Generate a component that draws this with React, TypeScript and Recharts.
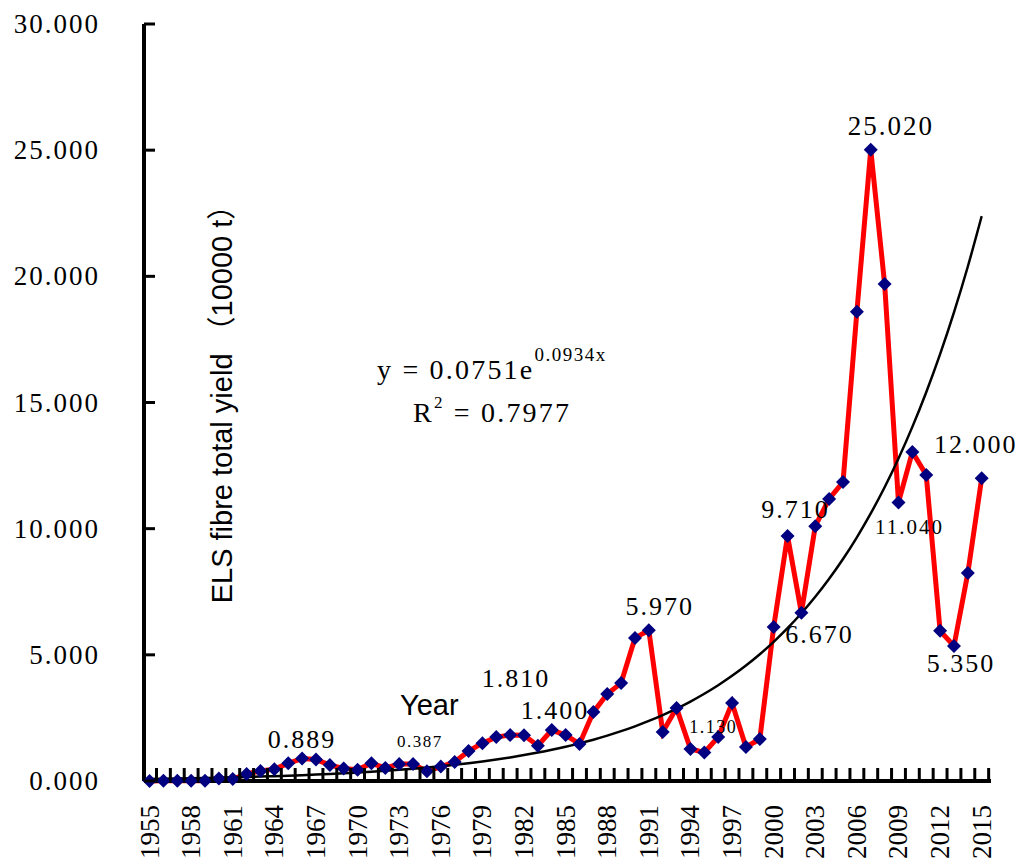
import React from "react";
import { LineChart, Line, XAxis, YAxis, LabelList, Customized } from "recharts";

// Years on the category axis, one point per year
const years = [
    1955, 1956, 1957, 1958, 1959, 1960, 1961, 1962, 1963, 1964,
    1965, 1966, 1967, 1968, 1969, 1970, 1971, 1972, 1973, 1974,
    1975, 1976, 1977, 1978, 1979, 1980, 1981, 1982, 1983, 1984,
    1985, 1986, 1987, 1988, 1989, 1990, 1991, 1992, 1993, 1994,
    1995, 1996, 1997, 1998, 1999, 2000, 2001, 2002, 2003, 2004,
    2005, 2006, 2007, 2008, 2009, 2010, 2011, 2012, 2013, 2014,
    2015,
];

// ELS fibre total yield (10000 t)
const yieldValues = [
    0.0, 0.01, 0.01, 0.01, 0.01, 0.1, 0.08, 0.28, 0.4, 0.47,
    0.7, 0.889, 0.85, 0.63, 0.5, 0.45, 0.7, 0.52, 0.67, 0.67,
    0.387, 0.57, 0.75, 1.19, 1.5, 1.74, 1.82, 1.81, 1.4, 2.02,
    1.82, 1.47, 2.73, 3.45, 3.88, 5.67, 5.97, 1.94, 2.89, 1.27,
    1.13, 1.74, 3.09, 1.35, 1.66, 6.1, 9.71, 6.67, 10.1, 11.18,
    11.85, 18.6, 25.02, 19.7, 11.04, 13.04, 12.13, 5.95, 5.35, 8.24,
    12.0,
];

// exponential fit printed on the chart: y = 0.0751 e^(0.0934 x), x = 1..61
const fitA = 0.0751;
const fitB = 0.0934;

const xLabelYears = [
    1955, 1958, 1961, 1964, 1967, 1970, 1973, 1976, 1979, 1982,
    1985, 1988, 1991, 1994, 1997, 2000, 2003, 2006, 2009, 2012, 2015,
];
const yTicks = [0, 5, 10, 15, 20, 25, 30];

// years that carry a value label
const labelledYears = [1966, 1975, 1982, 1983, 1991, 1995, 2001, 2002, 2007, 2009, 2013, 2015];

const data = years.map((year, i) => ({
    year,
    value: yieldValues[i],
    trend: fitA * Math.exp(fitB * (i + 1)),
}));

// tick marks sit between the years, labels on the years
const xTicks = [...years, ...years.map((y) => y + 0.5)].sort((a, b) => a - b);

const SERIF = "'Liberation Serif', 'Times New Roman', serif";
const SANS = "'Liberation Sans', Arial, 'Noto Sans CJK SC', sans-serif";

// where each value label sits relative to its point
const labelPlace: Record<number, { dx: number; dy: number; size: number }> = {
    1966: { dx: 0, dy: -11, size: 26 },
    1975: { dx: -7, dy: -24, size: 17 },
    1982: { dx: -8, dy: -48, size: 26 },
    1983: { dx: 17, dy: -27, size: 26 },
    1991: { dx: 11, dy: -15, size: 26 },
    1995: { dx: 9, dy: -19, size: 18 },
    2001: { dx: 8, dy: -18, size: 26 },
    2002: { dx: 18, dy: 30, size: 26 },
    2007: { dx: 20, dy: -15, size: 27 },
    2009: { dx: 11, dy: 32, size: 21 },
    2013: { dx: 7, dy: 26, size: 26 },
    2015: { dx: -6, dy: -25, size: 26 },
};

const XTick = (props: any) => {
    const { x, y, payload } = props;
    const v = payload.value;
    if (!Number.isInteger(v)) {
        return <line x1={x} x2={x} y1={y} y2={y - 13} stroke="#000" strokeWidth={3} />;
    }
    if (!xLabelYears.includes(v)) return <g />;
    const ty = y + 24;
    return (
        <text
            x={x}
            y={ty}
            transform={`rotate(-90 ${x} ${ty})`}
            textAnchor="end"
            dominantBaseline="central"
            fontFamily={SERIF}
            fontSize={27}
            fill="#000"
        >
            {v}
        </text>
    );
};

const YTick = (props: any) => {
    const { x, y, payload } = props;
    return (
        <g>
            <line x1={x} x2={x + 11} y1={y} y2={y} stroke="#000" strokeWidth={3} />
            <text
                x={x - 44}
                y={y}
                textAnchor="end"
                dominantBaseline="central"
                fontFamily={SERIF}
                fontSize={27}
                letterSpacing={2}
                fill="#000"
            >
                {payload.value.toFixed(3)}
            </text>
        </g>
    );
};

const Diamond = (props: any) => {
    const { cx, cy, index } = props;
    if (cx == null || cy == null) return <g key={index} />;
    const r = 7;
    return (
        <path
            key={index}
            d={`M${cx},${cy - r}L${cx + r},${cy}L${cx},${cy + r}L${cx - r},${cy}Z`}
            fill="#000080"
        />
    );
};

const PointLabel = (props: any) => {
    const { index, value } = props;
    const x = props.x ?? props.viewBox?.x;
    const y = props.y ?? props.viewBox?.y;
    const year = years[index];
    if (!labelledYears.includes(year)) return null;
    const p = labelPlace[year];
    return (
        <text
            x={x + p.dx}
            y={y + p.dy}
            textAnchor="middle"
            fontFamily={SERIF}
            fontSize={p.size}
            letterSpacing={p.size > 20 ? 2 : 1.5}
            fill="#000"
        >
            {Number(value).toFixed(3)}
        </text>
    );
};

const Annotations = () => (
    <g>
        <text x={377} y={379} fontFamily={SERIF} fontSize={28} letterSpacing={2.2} fill="#000">
            y = 0.0751e
            <tspan fontSize={19} dy={-18} letterSpacing={1.5}>0.0934x</tspan>
        </text>
        <text x={413} y={422} fontFamily={SERIF} fontSize={28} letterSpacing={2.2} fill="#000">
            R<tspan fontSize={17} dy={-14}>2</tspan>
            <tspan dy={14}> = 0.7977</tspan>
        </text>
        <text x={400} y={715} fontFamily={SANS} fontSize={29} fill="#000">
            Year
        </text>
        <text
            x={222}
            y={397}
            transform="rotate(-90 222 397)"
            textAnchor="middle"
            dominantBaseline="central"
            fontFamily={SANS}
            fontSize={29}
            fill="#000"
        >
            ELS fibre total yield （10000 t）
        </text>
    </g>
);

export default function App() {
    return (
        <div style={{ position: "absolute", left: 0, top: 0, width: 1016, height: 865, background: "#fff" }}>
            <LineChart
                width={1016}
                height={865}
                data={data}
                margin={{ top: 24, right: 25, left: 84, bottom: 54 }}
            >
                <XAxis
                    dataKey="year"
                    type="number"
                    domain={[1954.6, 2015.67]}
                    ticks={xTicks}
                    interval={0}
                    height={30}
                    tickSize={0}
                    tickMargin={0}
                    tick={<XTick />}
                    axisLine={{ stroke: "#000", strokeWidth: 4 }}
                />
                <YAxis
                    type="number"
                    domain={[0, 30]}
                    ticks={yTicks}
                    interval={0}
                    width={60}
                    tickSize={0}
                    tickMargin={0}
                    tick={<YTick />}
                    axisLine={{ stroke: "#000", strokeWidth: 4 }}
                />
                <Line
                    type="linear"
                    dataKey="value"
                    stroke="#ff0000"
                    strokeWidth={5}
                    dot={Diamond}
                    activeDot={false}
                    isAnimationActive={false}
                >
                    <LabelList dataKey="value" content={PointLabel} />
                </Line>
                <Line
                    type="monotone"
                    dataKey="trend"
                    stroke="#000"
                    strokeWidth={2.5}
                    dot={false}
                    activeDot={false}
                    isAnimationActive={false}
                />
                <Customized component={Annotations} />
            </LineChart>
        </div>
    );
}
